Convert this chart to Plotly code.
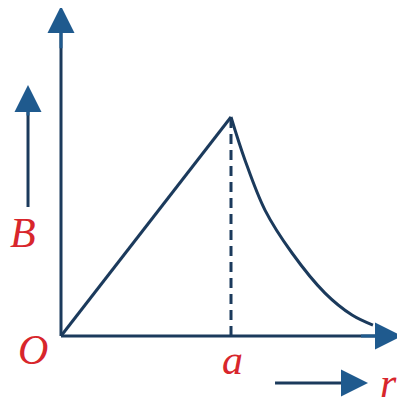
import plotly.graph_objects as go

# data (r in units of a, B in units of B_max)
r_rise = [0.0, 1.0]
B_rise = [0.0, 1.0]
r_fall = [1.0, 1.082, 1.2, 1.359, 1.553, 1.712, 1.835]
B_fall = [1.0, 0.804, 0.575, 0.379, 0.196, 0.096, 0.050]
r_peak = 1.0
B_peak = 1.0
axis_r_end = 2.006
axis_B_end = 1.507

NAVY = "#1b3a5c"
HEAD = "#1f5a8e"
RED = "#d8262c"
FONT = "Liberation Serif"

fig = go.Figure()
# axes shafts
fig.add_trace(go.Scatter(x=[0, 0], y=[0, axis_B_end - 0.08], mode="lines",
                         line=dict(color=NAVY, width=3), hoverinfo="skip"))
fig.add_trace(go.Scatter(x=[0, axis_r_end - 0.1], y=[0, 0], mode="lines",
                         line=dict(color=NAVY, width=3), hoverinfo="skip"))
# dashed drop line
fig.add_trace(go.Scatter(x=[r_peak, r_peak], y=[0, B_peak], mode="lines",
                         line=dict(color=NAVY, width=3, dash="10px,6px"), hoverinfo="skip"))
# field curve
fig.add_trace(go.Scatter(x=r_rise, y=B_rise, mode="lines",
                         line=dict(color=NAVY, width=3), hoverinfo="skip"))
fig.add_trace(go.Scatter(x=r_fall, y=B_fall, mode="lines", line_shape="spline",
                         line=dict(color=NAVY, width=3), hoverinfo="skip"))

# small indicator arrows
fig.add_trace(go.Scatter(x=[-0.194, -0.194], y=[0.589, 1.05], mode="lines",
                         line=dict(color=NAVY, width=3), hoverinfo="skip"))
fig.add_trace(go.Scatter(x=[1.259, 1.72], y=[-0.215, -0.215], mode="lines",
                         line=dict(color=NAVY, width=3), hoverinfo="skip"))

def head(xt, yt, xa, ya, size=1.8):
    fig.add_annotation(x=xt, y=yt, ax=xa, ay=ya, xref="x", yref="y",
                       axref="x", ayref="y", text="", showarrow=True,
                       arrowhead=2, arrowsize=size, arrowwidth=3,
                       arrowcolor=HEAD, standoff=0)

head(0, axis_B_end, 0, axis_B_end - 0.2)
head(axis_r_end, 0, axis_r_end - 0.25, 0)
head(-0.194, 1.146, -0.194, 1.0)
head(1.806, -0.215, 1.65, -0.215)

def label(txt, x, y, size=42):
    fig.add_annotation(x=x, y=y, xref="x", yref="y", text="<i>%s</i>" % txt,
                       showarrow=False, font=dict(family=FONT, size=size, color=RED))

label("O", -0.165, -0.064)
label("a", 1.006, -0.11)
label("B", -0.224, 0.47)
label("r", 1.924, -0.215)

# page body has an 8px margin: shift ranges so the drawing lands where the reference has it
OFF = 8
fig.update_layout(
    width=405, height=405, margin=dict(l=0, r=0, t=0, b=0),
    paper_bgcolor="white", plot_bgcolor="white", showlegend=False,
    xaxis=dict(range=[(OFF - 61) / 170, (405 + OFF - 61) / 170], visible=False, fixedrange=True),
    yaxis=dict(range=[(336 - 405 - OFF) / 219, (336 - OFF) / 219], visible=False, fixedrange=True),
)
fig.write_html("out.html")
